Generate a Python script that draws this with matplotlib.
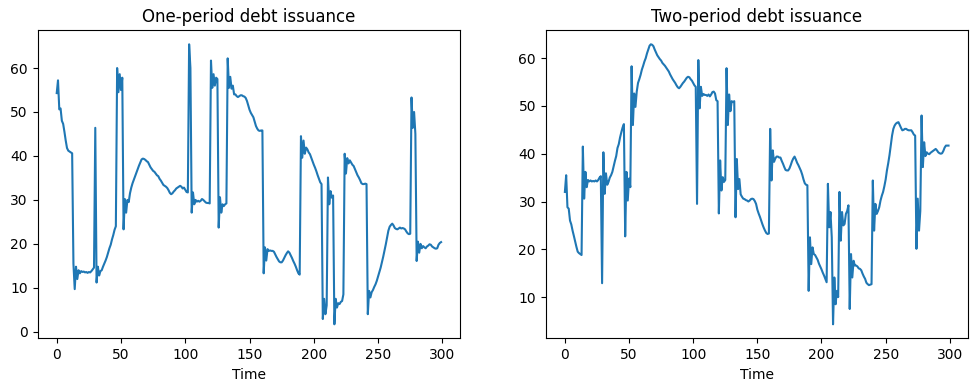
import matplotlib
matplotlib.use("Agg")
import matplotlib.pyplot as plt
import numpy as np

# One-period debt issuance, t = 0..299 (rows of 10)
one_period = [
    54.3, 57.2, 50.6, 50.8, 48.0, 47.3, 45.5, 43.5, 41.8, 41.2,   # 0
    41.0, 40.8, 40.6, 15.5, 9.7, 14.8, 12.0, 14.0, 13.3, 13.8,    # 10
    13.6, 13.7, 13.5, 13.6, 13.4, 13.6, 13.5, 13.8, 14.2, 14.6,   # 20
    46.4, 11.2, 14.8, 12.8, 13.8, 14.0, 14.8, 15.5, 16.2, 17.0,   # 30
    18.0, 19.0, 19.8, 21.0, 22.0, 23.2, 24.0, 60.0, 54.5, 58.6,   # 40
    55.0, 57.8, 23.3, 30.2, 27.1, 30.0, 29.5, 31.5, 32.8, 33.8,   # 50
    34.6, 35.4, 36.2, 37.0, 37.8, 38.5, 39.2, 39.4, 39.3, 39.1,   # 60
    38.8, 38.6, 38.0, 37.4, 37.0, 36.6, 36.4, 36.0, 35.6, 35.4,   # 70
    34.8, 34.4, 33.9, 33.4, 33.2, 33.0, 32.7, 32.2, 31.6, 31.3,   # 80
    31.5, 31.9, 32.2, 32.6, 32.8, 33.0, 33.2, 33.0, 32.6, 32.8,   # 90
    32.3, 31.8, 31.7, 65.4, 60.0, 27.1, 31.7, 29.0, 30.0, 29.6,   # 100
    29.8, 29.6, 29.8, 30.2, 30.0, 29.7, 29.4, 29.3, 29.3, 29.2,   # 110
    61.7, 55.5, 58.6, 56.0, 57.8, 57.5, 23.7, 30.6, 27.1, 29.0,   # 120
    28.6, 29.0, 29.2, 62.2, 55.5, 58.0, 55.3, 56.0, 54.0, 54.0,   # 130
    53.6, 53.4, 53.6, 53.8, 53.8, 53.6, 53.5, 53.2, 52.5, 51.5,   # 140
    50.5, 49.8, 49.3, 48.8, 47.8, 46.8, 46.2, 45.8, 45.7, 45.8,   # 150
    45.8, 13.3, 19.2, 16.2, 18.8, 18.4, 18.5, 18.4, 18.4, 18.2,   # 160
    17.6, 17.0, 16.5, 16.0, 15.8, 15.8, 16.2, 16.8, 17.4, 17.9,   # 170
    18.3, 18.0, 17.4, 16.8, 16.1, 15.5, 14.8, 14.0, 13.3, 13.0,   # 180
    44.5, 39.6, 43.5, 40.5, 41.9, 41.5, 40.8, 40.4, 39.6, 38.8,   # 190
    38.0, 37.3, 36.5, 35.6, 34.8, 34.0, 33.6, 2.9, 7.5, 4.0,      # 200
    6.0, 35.1, 29.0, 32.0, 30.5, 31.0, 1.7, 7.5, 5.5, 6.5,        # 210
    6.3, 6.8, 7.0, 8.5, 40.5, 36.0, 39.5, 38.3, 39.0, 38.5,       # 220
    38.0, 37.7, 37.0, 36.3, 35.6, 35.1, 34.5, 33.8, 33.6, 33.6,   # 230
    33.7, 33.6, 4.0, 9.3, 7.8, 9.0, 9.5, 10.2, 10.8, 11.6,        # 240
    12.6, 13.6, 14.6, 15.8, 17.1, 18.5, 19.9, 21.5, 23.0, 23.9,   # 250
    24.3, 24.6, 24.2, 23.6, 23.4, 23.3, 23.5, 23.7, 23.5, 23.6,   # 260
    23.5, 23.3, 22.8, 22.4, 22.2, 22.3, 53.3, 46.4, 50.0, 45.0,   # 270
    16.1, 20.5, 18.0, 20.0, 19.0, 19.5, 19.2, 19.0, 19.4, 19.6,   # 280
    19.9, 19.8, 19.4, 19.2, 19.0, 18.9, 19.0, 19.8, 20.2, 20.4,   # 290
]

# Two-period debt issuance, t = 0..299 (rows of 10)
two_period = [
    32.0, 35.5, 28.8, 28.5, 26.0, 25.2, 23.9, 22.8, 21.6, 20.5,   # 0
    19.5, 19.2, 19.0, 18.8, 41.5, 30.6, 36.2, 33.0, 34.5, 34.2,   # 10
    34.4, 34.2, 34.3, 34.2, 34.4, 34.2, 34.5, 35.0, 35.3, 12.9,   # 20
    40.3, 31.6, 35.9, 33.5, 34.1, 35.0, 35.5, 36.2, 37.4, 38.5,   # 30
    39.5, 41.2, 42.0, 43.4, 44.5, 45.5, 46.2, 22.7, 36.2, 30.2,   # 40
    34.8, 33.0, 58.3, 46.0, 52.6, 49.8, 53.0, 54.8, 55.6, 56.5,   # 50
    57.6, 58.4, 59.3, 60.0, 61.0, 61.8, 62.6, 62.9, 62.8, 62.5,   # 60
    61.8, 61.2, 60.6, 60.2, 59.8, 59.5, 59.0, 58.7, 58.4, 58.0,   # 70
    57.6, 57.2, 56.6, 56.1, 55.6, 55.2, 54.8, 54.3, 53.9, 53.7,   # 80
    54.0, 54.4, 54.8, 55.1, 55.5, 55.9, 56.1, 56.0, 55.6, 55.3,   # 90
    54.8, 54.3, 54.0, 29.5, 59.6, 49.5, 54.0, 52.1, 52.5, 52.3,   # 100
    52.3, 52.1, 52.4, 52.0, 52.4, 52.9, 53.0, 52.6, 51.2, 51.0,   # 110
    27.5, 38.6, 32.3, 35.1, 34.1, 34.5, 57.9, 46.0, 52.4, 48.9,   # 120
    51.0, 50.8, 51.0, 26.7, 38.9, 32.6, 34.7, 31.5, 31.0, 30.6,   # 130
    30.5, 30.3, 30.2, 30.0, 30.2, 30.5, 30.6, 30.5, 30.1, 29.5,   # 140
    28.3, 27.5, 26.8, 26.0, 25.2, 24.5, 23.9, 23.4, 23.2, 23.3,   # 150
    45.2, 34.4, 40.7, 38.3, 39.0, 39.4, 39.4, 39.2, 39.2, 38.5,   # 160
    37.9, 37.2, 36.6, 36.5, 36.5, 36.9, 37.6, 38.4, 39.0, 39.4,   # 170
    38.8, 38.1, 37.6, 37.0, 36.4, 35.6, 34.6, 33.8, 33.5, 33.4,   # 180
    11.3, 22.5, 16.9, 20.4, 19.0, 18.8, 18.3, 17.8, 17.0, 16.4,   # 190
    15.8, 15.1, 14.5, 13.8, 13.1, 33.7, 24.6, 27.8, 22.5, 4.3,    # 200
    14.1, 8.5, 11.3, 10.0, 32.0, 21.8, 27.8, 25.0, 25.3, 27.4,    # 210
    28.0, 29.2, 7.5, 19.0, 14.1, 17.6, 16.6, 16.6, 16.4, 16.0,    # 220
    15.9, 15.6, 14.9, 14.3, 13.8, 13.0, 12.7, 12.5, 12.6, 12.7,   # 230
    34.4, 23.9, 29.5, 27.4, 28.0, 28.8, 30.2, 31.2, 32.0, 33.2,   # 240
    34.6, 36.5, 38.0, 39.7, 41.8, 43.8, 45.2, 45.9, 46.3, 46.5,   # 250
    46.6, 46.0, 45.4, 44.9, 45.0, 45.2, 45.2, 45.0, 44.9, 44.9,   # 260
    44.9, 44.5, 44.0, 43.8, 20.1, 30.6, 23.9, 28.0, 48.0, 37.2,   # 270
    42.4, 39.5, 40.3, 40.0, 39.9, 40.2, 40.4, 40.6, 40.8, 41.0,   # 280
    40.7, 40.3, 40.1, 40.0, 40.1, 40.6, 41.3, 41.7, 41.7, 41.7,   # 290
]

titles = ["One-period debt issuance", "Two-period debt issuance"]
xlabel = "Time"

W, H = 977, 391
fig = plt.figure(figsize=(W / 100, H / 100), dpi=100)
ax1 = fig.add_axes([37.5 / W, (H - 338.3) / H, 422.8 / W, 308 / H])
ax2 = fig.add_axes([545.7 / W, (H - 338.3) / H, 422.0 / W, 308 / H])

for ax, series, title in zip([ax1, ax2], [one_period, two_period], titles):
    t = np.arange(len(series))
    ax.plot(t, series, color="#1f77b4", linewidth=1.5)
    ax.set_title(title)
    ax.set_xlabel(xlabel)
    ax.set_xticks([0, 50, 100, 150, 200, 250, 300])

ax1.set_yticks([0, 10, 20, 30, 40, 50, 60])
ax2.set_yticks([10, 20, 30, 40, 50, 60])

fig.savefig("out.png", dpi=100)
